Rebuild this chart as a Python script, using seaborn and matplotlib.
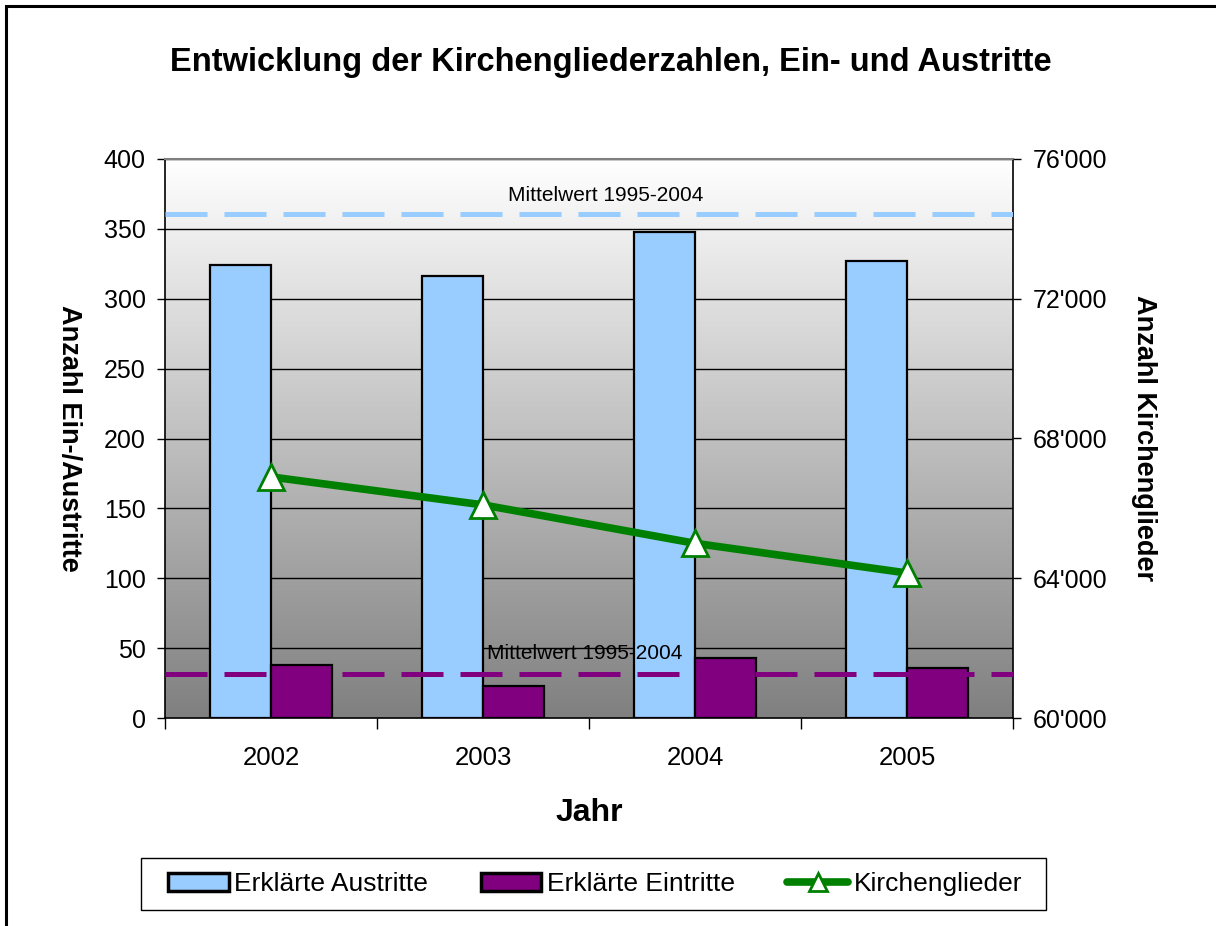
import numpy as np
import pandas as pd
import matplotlib
matplotlib.use("Agg")
import matplotlib.pyplot as plt
import seaborn as sns
from matplotlib.patches import Patch, Rectangle
from matplotlib.lines import Line2D
from matplotlib.ticker import FuncFormatter, FixedLocator

# Daten
jahre = ["2002", "2003", "2004", "2005"]
austritte = [324, 316, 348, 327]
eintritte = [38, 23, 43, 36]
kirchenglieder = [66900, 66100, 65000, 64150]
mittel_austritte = 361
mittel_eintritte = 31.5

farbe_aus = "#99CCFF"
farbe_ein = "#800080"
farbe_linie = "#008000"

sns.set_style("white")
plt.rcParams["font.family"] = ["Liberation Sans", "DejaVu Sans"]
plt.rcParams["text.color"] = "black"
plt.rcParams["axes.labelcolor"] = "black"
plt.rcParams["xtick.color"] = "black"
plt.rcParams["ytick.color"] = "black"

df = pd.DataFrame({
    "Jahr": jahre * 2,
    "Anzahl": austritte + eintritte,
    "Art": ["Erklärte Austritte"] * 4 + ["Erklärte Eintritte"] * 4,
})

fig = plt.figure(figsize=(12.16, 9.26), dpi=100)
# Rahmen (nur links/oben sichtbar)
fig.patches.append(Rectangle((6 / 1216, -0.1), 1.2, 1 - 6 / 926 + 0.1,
                             transform=fig.transFigure, fill=False,
                             edgecolor="black", linewidth=2.2))

ax = fig.add_axes([165 / 1216, 1 - 718 / 926, 848 / 1216, 559 / 926])

# Hintergrund-Verlauf (oben weiss, unten grau)
grad = np.linspace(0, 1, 256).reshape(-1, 1)
cmap = matplotlib.colors.LinearSegmentedColormap.from_list("g", ["#FFFFFF", "#808080"])
ax.imshow(grad, aspect="auto", cmap=cmap, extent=[-0.5, 3.5, 0, 400],
          zorder=0, origin="upper")

sns.barplot(data=df, x="Jahr", y="Anzahl", hue="Art",
            palette=[farbe_aus, farbe_ein], width=0.575,
            edgecolor="black", linewidth=1.6, saturation=1,
            legend=False, ax=ax, zorder=2)

ax.set_xlim(-0.5, 3.5)
ax.set_ylim(0, 400)
ax.set_yticks(range(0, 401, 50))
for y in range(50, 401, 50):
    ax.axhline(y, color="black", linewidth=1.0, zorder=1)

# Mittelwerte
l1 = ax.axhline(mittel_austritte, color=farbe_aus, linewidth=3.6, zorder=3)
l1.set_dashes((8.4, 3.4))
l2 = ax.axhline(mittel_eintritte, color=farbe_ein, linewidth=3.6, zorder=3)
l2.set_dashes((8.4, 3.4))
ax.text(1.58, mittel_austritte + 6, "Mittelwert 1995-2004", ha="center",
        va="bottom", fontsize=15, zorder=4)
ax.text(1.48, mittel_eintritte + 8, "Mittelwert 1995-2004", ha="center",
        va="bottom", fontsize=15, zorder=4)

ax.set_xlabel("Jahr", fontsize=23, fontweight="bold", labelpad=20)
ax.set_ylabel("Anzahl Ein-/Austritte", fontsize=19.5, fontweight="bold",
              rotation=270, labelpad=34, va="bottom")
ax.xaxis.set_minor_locator(FixedLocator([-0.5, 0.5, 1.5, 2.5, 3.5]))
ax.tick_params(axis="x", which="major", length=0, labelsize=18.5, pad=20)
ax.tick_params(axis="x", which="minor", length=8, width=1, color="black",
               direction="out", bottom=True)
ax.tick_params(axis="y", length=6, width=1, color="black", labelsize=18,
               left=True, direction="out", pad=8)
for s in ["left", "bottom", "right"]:
    ax.spines[s].set_color("black")
    ax.spines[s].set_linewidth(1.2)
ax.spines["top"].set_color("#808080")
ax.spines["top"].set_linewidth(1.5)

# Zweite Achse
ax2 = ax.twinx()
x_pos = list(range(len(jahre)))
sns.lineplot(x=x_pos, y=kirchenglieder, ax=ax2, color=farbe_linie,
             linewidth=5.5, marker="^", markersize=19,
             markerfacecolor="white", markeredgecolor=farbe_linie,
             markeredgewidth=2, zorder=5)
ax2.set_ylim(60000, 76000)
ax2.set_yticks(range(60000, 76001, 4000))
ax2.yaxis.set_major_formatter(FuncFormatter(lambda v, p: f"{int(v):,}".replace(",", "'")))
ax2.set_ylabel("Anzahl Kirchenglieder", fontsize=19.5, fontweight="bold",
               rotation=270, labelpad=17, va="bottom")
ax2.tick_params(axis="y", length=6, width=1, color="black", labelsize=18,
                right=True, direction="out", pad=8)
for s in ax2.spines.values():
    s.set_visible(False)

fig.suptitle("Entwicklung der Kirchengliederzahlen, Ein- und Austritte",
             x=611 / 1216, y=1 - 63 / 926, va="center", fontsize=23.5,
             fontweight="bold")

# Legende mit eigenem Rahmen
fig.patches.append(Rectangle((141 / 1216, 1 - 910 / 926), 905 / 1216, 52 / 926,
                             transform=fig.transFigure, facecolor="white",
                             edgecolor="black", linewidth=1.0))
handles = [
    Patch(facecolor=farbe_aus, edgecolor="black", linewidth=2.5),
    Patch(facecolor=farbe_ein, edgecolor="black", linewidth=2.5),
    Line2D([], [], color=farbe_linie, linewidth=5.5, marker="^",
           markersize=13, markerfacecolor="white",
           markeredgecolor=farbe_linie, markeredgewidth=2),
]
labels = ["Erklärte Austritte", "Erklärte Eintritte", "Kirchenglieder"]
leg = fig.legend(handles, labels, loc="center", ncol=3,
                 bbox_to_anchor=(595 / 1216, 1 - 884 / 926),
                 fontsize=19, frameon=False, handlelength=2.3,
                 handletextpad=0.2, columnspacing=2.0, borderaxespad=0,
                 borderpad=0.2)

fig.savefig("out.png", dpi=100)
